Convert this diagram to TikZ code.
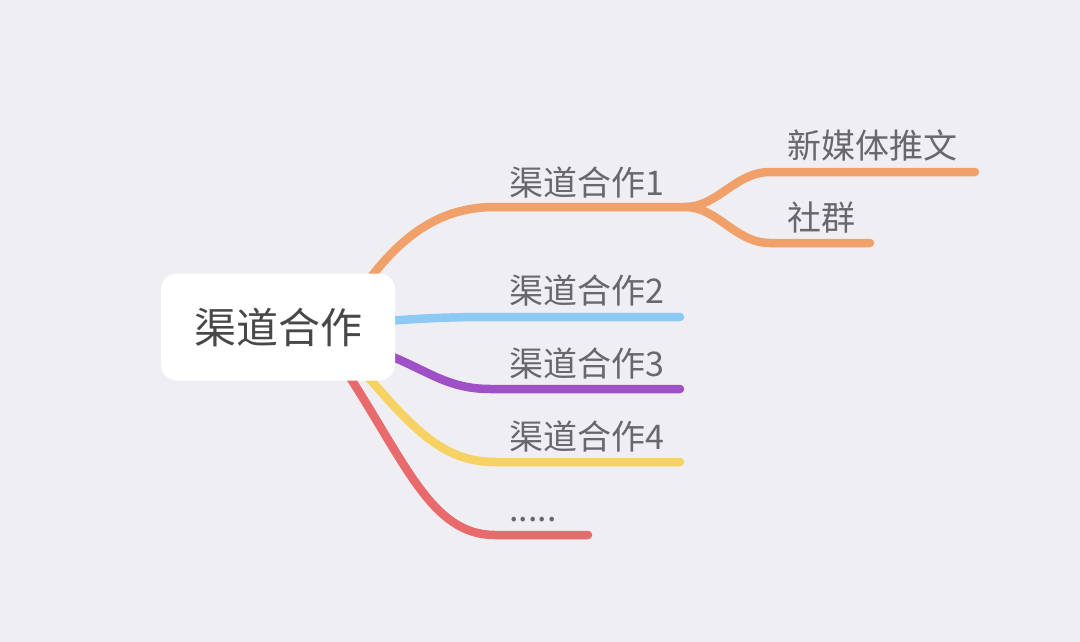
\documentclass[tikz,border=0pt]{standalone}
\usepackage{fontspec}
\newfontfamily\cjk{Noto Sans CJK SC}
\usetikzlibrary{positioning}
\definecolor{paperbg}{RGB}{238,238,243}
\definecolor{brorange}{RGB}{240,160,104}
\definecolor{brblue}{RGB}{142,200,245}
\definecolor{brpurple}{RGB}{160,80,198}
\definecolor{bryellow}{RGB}{246,210,98}
\definecolor{brred}{RGB}{232,106,108}
\definecolor{txtgray}{RGB}{104,104,108}
\definecolor{hubtext}{RGB}{72,72,72}

\begin{document}
\begin{tikzpicture}[x=1pt, y=-1pt,
  hub/.style={fill=white, rounded corners=16pt, minimum width=234pt,
              minimum height=107pt, inner sep=0pt, text=hubtext,
              font=\cjk\fontsize{42}{42}\selectfont},
  lbl/.style={anchor=base west, inner sep=0pt, text=txtgray,
              font=\cjk\fontsize{34}{34}\selectfont},
  branch/.style={line width=8.5pt, line cap=round}
]
  \fill[paperbg] (0,0) rectangle (1080,642);
  \useasboundingbox (0,0) rectangle (1080,642);

  % branch end points
  \coordinate (o0) at (360,292);
  \coordinate (o1) at (495,207);
  \coordinate (o2) at (685,207);
  \coordinate (o3) at (770,172);
  \coordinate (o4) at (975,172);
  \coordinate (o5) at (770,243);
  \coordinate (o6) at (870,243);
  \coordinate (u0) at (385,321);
  \coordinate (u1) at (490,317);
  \coordinate (u2) at (680,317);
  \coordinate (p0) at (380,352);
  \coordinate (p1) at (490,389);
  \coordinate (p2) at (680,389);
  \coordinate (y0) at (355,362);
  \coordinate (y1) at (495,462);
  \coordinate (y2) at (680,462);
  \coordinate (r0) at (340,362);
  \coordinate (r1) at (495,535);
  \coordinate (r2) at (588,535);

  \draw[branch, brorange] (o0) .. controls (400,235) and (440,207) .. (o1) -- (o2);
  \draw[branch, brorange] (o2) .. controls (718,207) and (735,172) .. (o3) -- (o4);
  \draw[branch, brorange] (o2) .. controls (718,207) and (735,243) .. (o5) -- (o6);
  \draw[branch, brblue] (u0) .. controls (430,318) and (450,317) .. (u1) -- (u2);
  \draw[branch, brpurple] (p0) .. controls (425,368) and (445,389) .. (p1) -- (p2);
  \draw[branch, bryellow] (y0) .. controls (410,425) and (440,462) .. (y1) -- (y2);
  \draw[branch, brred] (r0) .. controls (405,460) and (430,535) .. (r1) -- (r2);

  \node[hub] (hub) at (278,327) {渠道合作};

  \node[lbl] (c1) at (509,195) {渠道合作1};
  \node[lbl] (c2) at (509,303) {渠道合作2};
  \node[lbl] (c3) at (509,376) {渠道合作3};
  \node[lbl] (c4) at (509,449) {渠道合作4};
  \node[lbl] (c5) at (509,521) {.....};
  \node[lbl] (s1) at (787,158) {新媒体推文};
  \node[lbl] (s2) at (787,230) {社群};
\end{tikzpicture}
\end{document}
